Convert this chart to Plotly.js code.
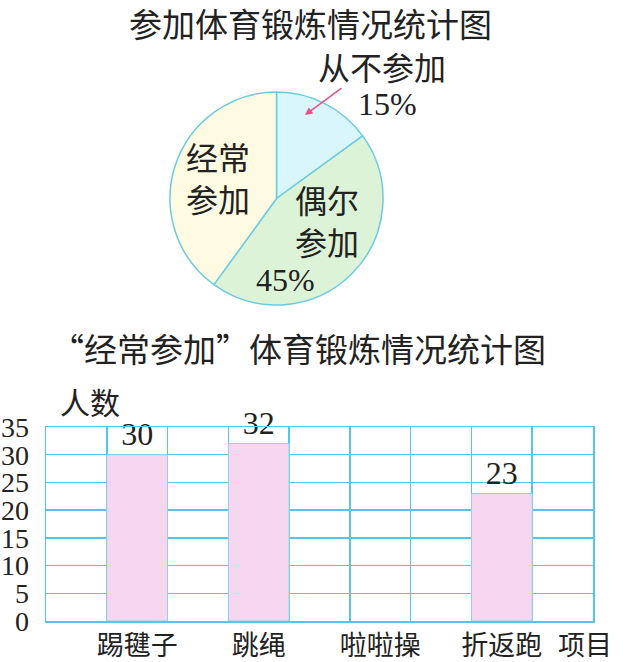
<!DOCTYPE html>
<html>
<head>
<meta charset="utf-8">
<script src="https://cdn.plot.ly/plotly-3.0.1.min.js"></script>
<style>html,body{margin:0;padding:0;background:#fff;}#chart{width:630px;height:662px;}</style>
</head>
<body>
<div id="chart"></div>
<script>
// ---- data ----
const pieTitle = '参加体育锻炼情况统计图';
const pieLabels = ['从不参加', '偶尔参加', '经常参加'];
const piePercents = [15, 45, 40];
const pieColors = ['#d9f6fc', '#ddf3d8', '#fefbe2'];

const barTitle = '“经常参加”体育锻炼情况统计图';
const barCategories = ['踢毽子', '跳绳', '啦啦操', '折返跑'];
const barValues = [30, 32, null, 23];
const yTitle = '人数';
const xTitle = '项目';

// ---- styles ----
const CJK = '"Noto Sans CJK SC", "Noto Sans", sans-serif';
const SERIF = '"Liberation Serif", "DejaVu Serif", serif';
const INK = '#222';
const GRID = '#55c6e8';
const W = 630, H = 662;
const px = v => v / W;
const py = v => 1 - v / H;

// category axis: a gap column before/between/after each item
const xCats = [];
const xText = [];
barCategories.forEach((c, i) => { xCats.push('gap' + i); xText.push(''); xCats.push(c); xText.push(c); });
xCats.push('gap' + barCategories.length); xText.push('');

const pieTrace = {
  type: 'pie',
  labels: pieLabels,
  values: piePercents,
  sort: false,
  direction: 'clockwise',
  rotation: 0,
  textinfo: 'none',
  hoverinfo: 'label+percent',
  marker: { colors: pieColors, line: { color: '#6ccbe3', width: 1.5 } },
  domain: { x: [px(170), px(383)], y: [py(307), py(90)] },
  showlegend: false
};

const barTrace = {
  type: 'bar',
  x: barCategories,
  y: barValues,
  width: 1,
  text: barValues.map(v => v == null ? '' : String(v)),
  textposition: 'outside',
  textfont: { family: SERIF, size: 32, color: INK },
  cliponaxis: false,
  marker: { color: '#f7d6f0', line: { color: '#8fd3ea', width: 1 } },
  hoverinfo: 'x+y',
  showlegend: false
};

const pct = i => piePercents[i] + '%';

const layout = {
  width: W, height: H,
  margin: { l: 0, r: 0, t: 0, b: 0 },
  paper_bgcolor: '#fff', plot_bgcolor: '#fff',
  font: { family: CJK, color: INK },
  xaxis: {
    type: 'category',
    categoryorder: 'array',
    categoryarray: xCats,
    range: [-0.5, xCats.length - 0.5],
    tickmode: 'array',
    tickvals: xCats,
    ticktext: xText,
    tickson: 'boundaries',
    tickangle: 0,
    ticks: '',
    tickfont: { family: CJK, size: 27, color: INK },
    ticklabelstandoff: 0,
    showgrid: true, gridcolor: GRID, gridwidth: 1.5,
    showline: true, linecolor: GRID, linewidth: 1.5, mirror: true,
    zeroline: false, fixedrange: true, automargin: false,
    domain: [px(46), px(593)], anchor: 'y'
  },
  yaxis: {
    range: [0, 35],
    dtick: 5, tick0: 0,
    ticks: '',
    tickfont: { family: SERIF, size: 28, color: INK },
    ticklabelstandoff: 10,
    showgrid: true, gridcolor: GRID, gridwidth: 1.5,
    showline: true, linecolor: GRID, linewidth: 1.5, mirror: true,
    zeroline: false, fixedrange: true, automargin: false,
    domain: [py(621), py(427)], anchor: 'x'
  },
  annotations: [
    { text: pieTitle, x: px(310), y: py(23), xref: 'paper', yref: 'paper',
      xanchor: 'center', yanchor: 'middle', showarrow: false, borderpad: 0,
      font: { family: CJK, size: 33, color: INK } },
    { text: barTitle, x: px(298), y: py(348), xref: 'paper', yref: 'paper',
      xanchor: 'center', yanchor: 'middle', showarrow: false,
      font: { family: CJK, size: 33, color: INK } },
    { text: yTitle, x: px(90), y: py(401), xref: 'paper', yref: 'paper',
      xanchor: 'center', yanchor: 'middle', showarrow: false,
      font: { family: CJK, size: 30, color: INK } },
    { text: xTitle, x: px(585), y: py(643), xref: 'paper', yref: 'paper',
      xanchor: 'center', yanchor: 'middle', showarrow: false,
      font: { family: CJK, size: 27, color: INK } },
    // pie labels
    { text: pieLabels[0], x: px(382), y: py(66), xref: 'paper', yref: 'paper',
      xanchor: 'center', yanchor: 'middle', showarrow: false, borderpad: 0,
      font: { family: CJK, size: 32, color: INK } },
    { text: pct(0), x: px(387), y: py(104), xref: 'paper', yref: 'paper',
      xanchor: 'center', yanchor: 'middle', showarrow: false,
      font: { family: SERIF, size: 32, color: INK } },
    { text: '', x: px(305), y: py(115), xref: 'paper', yref: 'paper',
      showarrow: true, ax: 38, ay: -28, arrowhead: 2, arrowsize: 1,
      arrowwidth: 1.5, arrowcolor: '#e8508a' },
    { text: pieLabels[2].slice(0, 2) + '<br>' + pieLabels[2].slice(2),
      x: px(218), y: py(177), xref: 'paper', yref: 'paper',
      xanchor: 'center', yanchor: 'middle', showarrow: false,
      font: { family: CJK, size: 32, color: INK } },
    { text: pieLabels[1].slice(0, 2) + '<br>' + pieLabels[1].slice(2),
      x: px(327), y: py(220), xref: 'paper', yref: 'paper',
      xanchor: 'center', yanchor: 'middle', showarrow: false,
      font: { family: CJK, size: 32, color: INK } },
    { text: pct(1), x: px(285), y: py(280), xref: 'paper', yref: 'paper',
      xanchor: 'center', yanchor: 'middle', showarrow: false,
      font: { family: SERIF, size: 32, color: INK } }
  ]
};

Plotly.newPlot('chart', [pieTrace, barTrace], layout, { displayModeBar: false, staticPlot: true });
</script>
</body>
</html>
